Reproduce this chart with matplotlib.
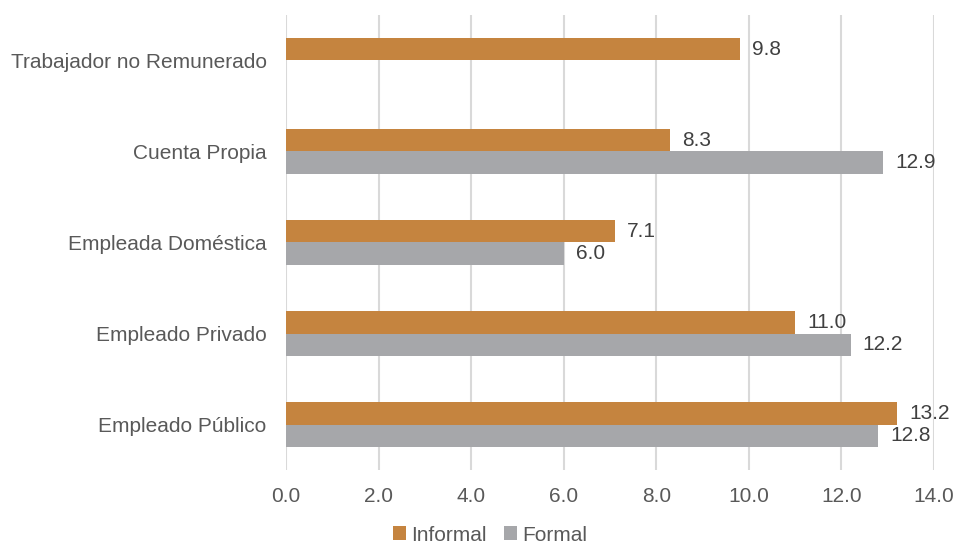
import matplotlib.pyplot as plt
import numpy as np

plt.rcParams['font.family'] = ['Liberation Sans', 'DejaVu Sans']

# Categories listed bottom to top
categories = ["Empleado Público", "Empleado Privado", "Empleada Doméstica",
              "Cuenta Propia", "Trabajador no Remunerado"]
informal = [13.2, 11.0, 7.1, 8.3, 9.8]
formal = [12.8, 12.2, 6.0, 12.9, np.nan]
x_ticks = [0, 2, 4, 6, 8, 10, 12, 14]

c_informal = "#C5843F"
c_formal = "#A6A7AA"
text_color = "#595959"
fs = 15

fig = plt.figure(figsize=(9.58, 5.45), dpi=100)
ax = fig.add_axes([0.2985, 0.1376, 0.6765, 0.8349])

y = np.arange(len(categories))
h = 0.25
bars_inf = ax.barh(y + h / 2, informal, height=h, color=c_informal, label="Informal", zorder=3)
bars_for = ax.barh(y - h / 2, formal, height=h, color=c_formal, label="Formal", zorder=3)

# value labels at the end of each bar
for bars, vals in ((bars_inf, informal), (bars_for, formal)):
    for b, v in zip(bars, vals):
        if np.isnan(v):
            continue
        ax.annotate(f"{v:.1f}", (v, b.get_y() + b.get_height() / 2),
                    xytext=(12, 0), textcoords="offset pixels",
                    va="center", ha="left", fontsize=fs, color="#404040")

ax.set_xlim(0, 14)
ax.set_ylim(-0.5, len(categories) - 0.5)
ax.set_xticks(x_ticks)
ax.set_xticklabels([f"{t:.1f}" for t in x_ticks])
ax.set_yticks(y)
ax.set_yticklabels(categories)
ax.tick_params(axis="both", length=0, labelsize=fs, colors=text_color)
ax.tick_params(axis="x", pad=12)
ax.tick_params(axis="y", pad=14)

ax.grid(axis="x", color="#D9D9D9", linewidth=1.5, zorder=0)
for s in ax.spines.values():
    s.set_visible(False)

ax.legend(loc="lower center", bbox_to_anchor=(0.315, -0.205), ncol=2, frameon=False,
          fontsize=fs, labelcolor=text_color, handlelength=0.65, handleheight=0.65,
          handletextpad=0.25, columnspacing=0.8)

fig.savefig("out.png", dpi=100)
